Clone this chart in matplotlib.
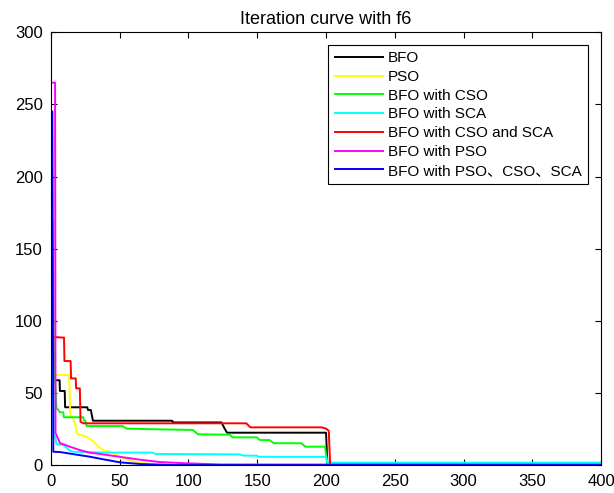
import matplotlib
matplotlib.use('Agg')
import matplotlib.pyplot as plt

plt.rcParams['font.family'] = ['Liberation Sans', 'Noto Sans CJK SC', 'DejaVu Sans']

# 데이터 (iteration, fitness) - 그림에서 읽은 값
bfo_x = [1, 2, 3, 6.3, 6.5, 10, 10.3, 26.4, 27, 29, 30.5, 88, 89, 124, 126, 128, 200, 201, 400]
bfo_y = [100, 71, 59, 59, 51.6, 51.6, 40.3, 40.3, 38.4, 38.4, 31, 31, 29.8, 29.8, 26, 22.7, 22.7, 0.5, 0.5]

pso_x = [1, 2, 3, 13.3, 14, 16, 16.5, 17.5, 18.7, 21, 24.7, 29.6, 34.4, 38, 45, 50, 60, 72, 90, 400]
pso_y = [110, 80, 62.6, 62.6, 33.8, 33.8, 30.3, 30, 22.3, 21.1, 20.4, 17.6, 13, 10.7, 8.9, 6.1, 2.6, 1, 0.6, 0.5]

cso_x = [1, 2, 3, 4, 6.5, 9, 9.3, 23.5, 24, 25, 26, 52, 55, 80, 103, 107, 130, 132, 149.6, 152, 159, 162, 182, 185, 199.3, 201, 400]
cso_y = [170, 82, 60, 40, 36.8, 36.8, 33.4, 33.4, 31, 31, 27.3, 27.3, 25.5, 25, 24.6, 21.6, 21.3, 19.5, 19.5, 17.6, 17.6, 15.4, 15.4, 13, 13, 0.5, 0.5]

sca_x = [1, 2, 3, 4, 9, 14, 16, 40.5, 74, 76, 137, 140, 149.6, 151, 200, 201, 400]
sca_y = [140, 20, 20, 14.7, 14.2, 10.2, 9.5, 8.9, 8.9, 8, 7.7, 6.8, 6.8, 6.0, 6.0, 2, 2]

cso_sca_x = [1, 9.5, 9.8, 14.3, 14.6, 18, 18.3, 21, 21.5, 23.5, 142, 145, 197, 200, 202, 203, 400]
cso_sca_y = [89, 88.5, 72.3, 72.3, 60.3, 60.3, 53.4, 53.4, 30.3, 29.2, 29.2, 26.4, 26.4, 25.5, 24, 0.5, 0.5]

bfo_pso_x = [1, 3, 3.3, 6.5, 13.8, 21, 28, 35.6, 50, 65, 79, 94, 123, 400]
bfo_pso_y = [265, 265, 22.5, 15.6, 13, 10.7, 8.9, 8, 6, 4, 2.4, 1.7, 0.7, 0.5]

all_x = [1, 1.7, 6.5, 16, 28, 38, 50, 65, 89, 400]
all_y = [245, 9.5, 9.3, 7.9, 6.1, 4.3, 2.2, 1, 0.3, 0.2]

labels = ['BFO', 'PSO', 'BFO with CSO', 'BFO with SCA', 'BFO with CSO and SCA',
          'BFO with PSO', 'BFO with PSO、CSO、SCA']
colors = ['#000000', '#ffff00', '#00ff00', '#00ffff', '#ff0000', '#ff00ff', '#0000ff']

fig = plt.figure(figsize=(6.14, 4.93), dpi=100)
ax = fig.add_axes([0.083, 0.0558, 0.896, 0.879])

series = [(bfo_x, bfo_y), (pso_x, pso_y), (cso_x, cso_y), (sca_x, sca_y),
          (cso_sca_x, cso_sca_y), (bfo_pso_x, bfo_pso_y), (all_x, all_y)]
for (xs, ys), c, lb in zip(series, colors, labels):
    ax.plot(xs, ys, color=c, lw=1.4, label=lb)

ax.set_xlim(0, 400)
ax.set_ylim(0, 300)
ax.set_xticks(range(0, 401, 50))
ax.set_yticks(range(0, 301, 50))
ax.tick_params(direction='in', top=True, right=True, length=4, width=0.8, labelsize=12, pad=6)
for s in ax.spines.values():
    s.set_linewidth(0.8)
ax.set_title('Iteration curve with f6', fontsize=13, pad=6)

leg = ax.legend(loc='upper right', bbox_to_anchor=(0.976, 0.970), borderaxespad=0, fontsize=11,
                handlelength=3.2, handletextpad=0.3, labelspacing=0.31,
                borderpad=0.4, frameon=True, fancybox=False, framealpha=1)
leg.get_frame().set_edgecolor('black')
leg.get_frame().set_linewidth(0.8)

plt.savefig('out.png', dpi=100)
